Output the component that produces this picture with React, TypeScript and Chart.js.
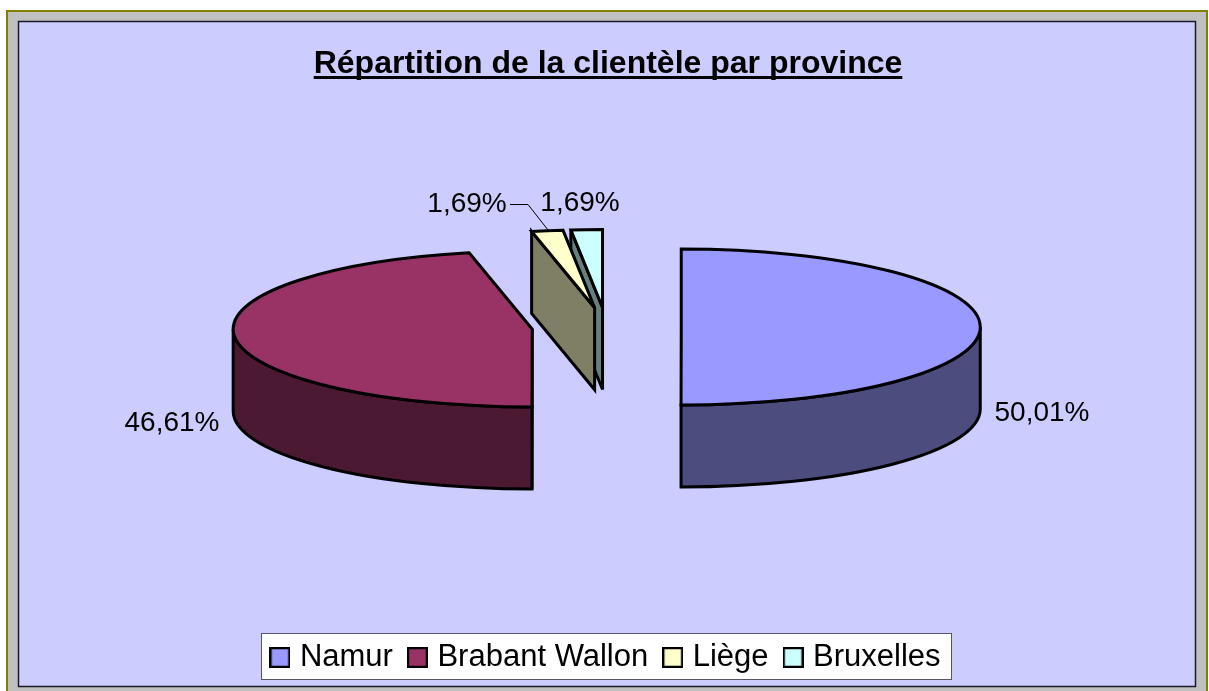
import React, { useEffect, useRef } from "react";
import { Chart, registerables } from "chart.js";

Chart.register(...registerables);

const categories = ["Namur", "Brabant Wallon", "Liège", "Bruxelles"];
const shares = [50.01, 46.61, 1.69, 1.69];
const topColors = ["#9999FF", "#993366", "#FFFFCC", "#CCFFFF"];
const sideColors = ["#4C4C7F", "#4C1933", "#7F7F66", "#667F7F"];
const titleText = "Répartition de la clientèle par province";

const FONT = '"Liberation Sans", Arial, sans-serif';
const view = { cx: 606.5, cy: 327, tilt: 0.261, depth: 82 };
const labelSpots = [
  { x: 1042, y: 413 },
  { x: 172, y: 423 },
  { x: 467, y: 204 },
  { x: 580, y: 203 },
];

function swatch(color: string) {
  const c = document.createElement("canvas");
  c.width = 21;
  c.height = 21;
  const g = c.getContext("2d")!;
  g.fillStyle = color;
  g.fillRect(1, 1, 19, 19);
  g.strokeStyle = "#000";
  g.lineWidth = 2.5;
  g.strokeRect(1, 1, 19, 19);
  return c;
}

const framePlugin = {
  id: "frame",
  beforeDraw(chart: any) {
    const { ctx } = chart;
    ctx.save();
    ctx.fillStyle = "#FFFFFF";
    ctx.fillRect(0, 0, 1209, 691);
    ctx.fillStyle = "#808000";
    ctx.fillRect(6, 10, 1202, 681);
    ctx.fillStyle = "#C0C0C0";
    ctx.fillRect(8, 12, 1198, 679);
    ctx.fillStyle = "#CCCCFF";
    ctx.fillRect(18, 21, 1177, 665);
    ctx.strokeStyle = "#1A1A2A";
    ctx.lineWidth = 1.5;
    ctx.strokeRect(18.5, 21.5, 1177, 665);
    ctx.fillStyle = "#FFFFFF";
    ctx.fillRect(262, 633, 689, 46);
    ctx.strokeStyle = "#555566";
    ctx.lineWidth = 1;
    ctx.strokeRect(261.5, 633.5, 690, 46);
    ctx.restore();
  },
  afterDraw(chart: any) {
    const { ctx } = chart;
    const t = chart.titleBlock;
    ctx.save();
    ctx.font = `bold 32px ${FONT}`;
    const w = ctx.measureText(titleText).width;
    const mid = (t.left + t.right) / 2;
    ctx.fillStyle = "#000";
    ctx.fillRect(mid - w / 2, t.top + 76, w, 3);
    ctx.restore();
  },
};

const pie3dPlugin = {
  id: "pie3d",
  beforeDatasetDraw(chart: any, args: any) {
    const { ctx } = chart;
    const arcs = args.meta.data as any[];
    const { cx, cy, tilt, depth } = view;
    const geoms = arcs.map((el) => {
      const off = (el.options.offset || 0) / 4;
      const half = (el.startAngle + el.endAngle) / 2;
      const r = el.outerRadius + off;
      return {
        x: cx + Math.cos(half) * off,
        y: cy + Math.sin(half) * off * tilt,
        a: el.startAngle,
        b: el.endAngle,
        rx: r,
        ry: r * tilt,
      };
    });
    ctx.save();
    ctx.lineWidth = 3;
    ctx.lineJoin = "miter";
    ctx.miterLimit = 3;
    ctx.strokeStyle = "#000";
    const paint = (fill: string) => {
      ctx.fillStyle = fill;
      ctx.fill();
      ctx.stroke();
    };
    for (let i = arcs.length - 1; i >= 0; i--) {
      const g = geoms[i];
      const side = sideColors[i];
      const top = topColors[i];
      const wall = (phi: number) => {
        const ex = g.x + g.rx * Math.cos(phi);
        const ey = g.y + g.ry * Math.sin(phi);
        ctx.beginPath();
        ctx.moveTo(g.x, g.y);
        ctx.lineTo(ex, ey);
        ctx.lineTo(ex, ey + depth);
        ctx.lineTo(g.x, g.y + depth);
        ctx.closePath();
        paint(side);
      };
      if (Math.cos(g.b) > 1e-9) wall(g.b);
      if (Math.cos(g.a) < -1e-9) wall(g.a);
      const from = Math.max(g.a, 0);
      const to = Math.min(g.b, Math.PI);
      if (to > from) {
        ctx.beginPath();
        ctx.ellipse(g.x, g.y, g.rx, g.ry, 0, from, to);
        ctx.lineTo(g.x + g.rx * Math.cos(to), g.y + g.ry * Math.sin(to) + depth);
        ctx.ellipse(g.x, g.y + depth, g.rx, g.ry, 0, to, from, true);
        ctx.closePath();
        paint(side);
      }
      ctx.beginPath();
      ctx.moveTo(g.x, g.y);
      ctx.ellipse(g.x, g.y, g.rx, g.ry, 0, g.a, g.b);
      ctx.closePath();
      paint(top);
    }
    ctx.restore();
    return false;
  },
  afterDatasetsDraw(chart: any) {
    const { ctx } = chart;
    ctx.save();
    ctx.font = `28px ${FONT}`;
    ctx.fillStyle = "#000";
    ctx.textAlign = "center";
    ctx.textBaseline = "middle";
    shares.forEach((v, i) => {
      const s = labelSpots[i];
      ctx.fillText(v.toFixed(2).replace(".", ",") + "%", s.x, s.y);
    });
    ctx.strokeStyle = "#000";
    ctx.lineWidth = 1;
    ctx.beginPath();
    ctx.moveTo(510, 204.5);
    ctx.lineTo(528, 204.5);
    ctx.lineTo(548, 230);
    ctx.stroke();
    ctx.restore();
  },
};

export default function App() {
  const ref = useRef<HTMLCanvasElement>(null);
  useEffect(() => {
    document.body.style.margin = "0";
    const chart = new Chart(ref.current!, {
      type: "pie",
      data: {
        labels: categories,
        datasets: [
          {
            data: shares,
            backgroundColor: topColors,
            borderColor: "#000",
            borderWidth: 2,
            offset: 299,
            hoverOffset: 0,
            radius: 224.25,
          } as any,
        ],
      },
      options: {
        responsive: false,
        animation: false,
        events: [],
        layout: { padding: { left: 7, bottom: 8 } },
        plugins: {
          tooltip: { enabled: false },
          title: {
            display: true,
            text: titleText,
            color: "#000",
            font: { family: FONT, size: 32, weight: "bold" },
            padding: { top: 45, bottom: 10 },
          },
          legend: {
            display: true,
            position: "bottom",
            labels: {
              usePointStyle: true,
              pointStyleWidth: 9,
              padding: 20,
              color: "#000",
              font: { family: FONT, size: 31 },
              generateLabels: () =>
                categories.map((text, i) => ({
                  text,
                  index: i,
                  pointStyle: swatch(topColors[i]),
                  fontColor: "#000",
                  lineWidth: 0,
                  hidden: false,
                })),
            },
          },
        },
      },
      plugins: [framePlugin, pie3dPlugin],
    } as any);
    return () => chart.destroy();
  }, []);
  return (
    <canvas
      ref={ref}
      width={1209}
      height={691}
      style={{ position: "fixed", left: 0, top: 0, display: "block" }}
    />
  );
}
